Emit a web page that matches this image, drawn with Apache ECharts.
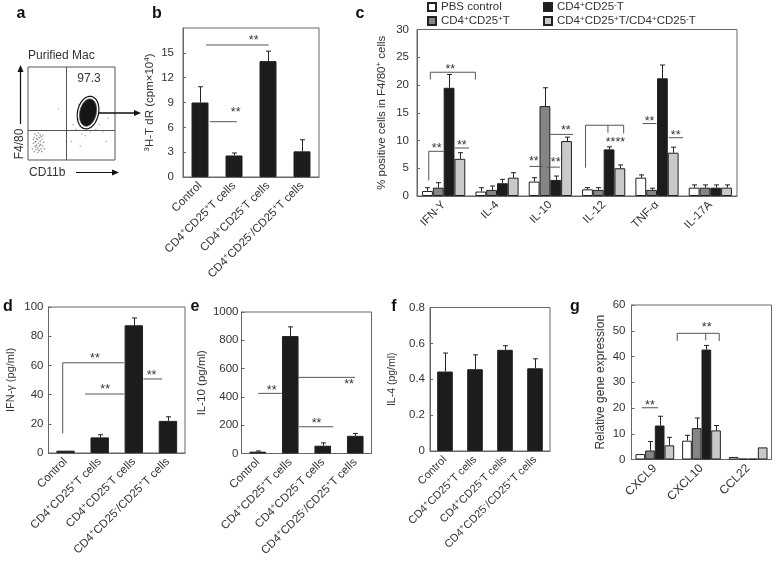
<!DOCTYPE html>
<html><head><meta charset="utf-8">
<script src="https://cdn.jsdelivr.net/npm/echarts@6.0.0/dist/echarts.min.js"></script>
<style>html,body{margin:0;padding:0;background:#fff}#chart{width:776px;height:571px}</style>
</head><body><div id="chart"></div>
<script>
// ================= DATA =================
const treatCats = ['Control','CD4^+CD25^+T cells','CD4^+CD25^-T cells','CD4^+CD25^-/CD25^+T cells'];
// panel b: 3H-TdR proliferation
const bValues = [9.0, 2.6, 14.0, 3.1];
const bErrTop = [10.9, 2.9, 15.2, 4.5];
// panel c: % positive cells
const cCats = ['IFN-Y','IL-4','IL-10','IL-12','TNF-α','IL-17A'];
const cPBS    = [0.9, 0.8, 2.6, 1.2, 3.3, 1.5];
const cPBSErr = [1.5, 1.5, 3.3, 1.5, 3.8, 2.0];
const cTreg    = [1.5, 1.1, 16.2, 1.1, 1.1, 1.5];
const cTregErr = [2.4, 1.8, 19.5, 1.5, 1.4, 2.0];
const cTeff    = [19.5, 2.3, 2.9, 8.4, 21.2, 1.5];
const cTeffErr = [21.9, 3.0, 3.6, 8.85, 23.6, 2.0];
const cMix    = [6.7, 3.3, 9.9, 5.0, 7.8, 1.5];
const cMixErr = [7.8, 4.2, 10.6, 5.6, 8.8, 2.0];
// panel d: IFN-gamma
const dValues = [1.6, 10.7, 87.5, 22.0];
const dErrTop = [1.6, 12.5, 92.5, 24.8];
// panel e: IL-10
const eValues = [13, 830, 55, 125];
const eErrTop = [18, 895, 75, 142];
// panel f: IL-4
const fValues = [0.443, 0.456, 0.564, 0.461];
const fErrTop = [0.546, 0.536, 0.587, 0.514];
// panel g: relative gene expression
const gCats = ['CXCL9','CXCL10','CCL22'];
const gPBS    = [2.1, 7.3, 1.0];
const gPBSErr = [2.1, 9.4, 1.0];
const gTreg    = [3.5, 12.2, 0.3];
const gTregErr = [7.0, 16.1, 0.3];
const gTeff    = [13.2, 42.7, 0.3];
const gTeffErr = [16.8, 44.3, 0.3];
const gMix    = [5.5, 11.3, 4.7];
const gMixErr = [8.6, 13.2, 4.7];
// panel a: flow cytometry (CD11b x, F4/80 y, 0-100 scale)
const macGate = [69, 51];
const macPercent = '97.3';
const quadX = 44.5, quadY = 31.5;
const lowLeftDots = [[5,12],[6,18],[7,9],[7,24],[8,15],[8,28],[9,11],[9,20],[10,16],[10,26],[11,8],[11,13],[11,22],[12,18],[12,29],[13,10],[13,15],[13,24],[14,20],[14,27],[15,12],[15,17],[16,22],[16,9],[17,15],[17,26],[18,19],[19,12],[6,22],[9,14],[12,11],[14,16],[10,23],[15,25],[8,19]];
const gateDots = [[52,38],[55,33],[58,44],[60,36],[62,28],[57,52],[64,40],[78,33],[82,38],[86,30],[80,62],[76,45],[58,60],[66,26],[72,30],[92,45],[50,20],[60,15],[35,55],[90,20]];

const seriesNames = ['PBS control','CD4+CD25+T','CD4+CD25-T','CD4+CD25+T/CD4+CD25-T'];
const legendLabels = {'PBS control':'PBS control','CD4+CD25+T':'CD4^+CD25^+T','CD4+CD25-T':'CD4^+CD25^-T','CD4+CD25+T/CD4+CD25-T':'CD4^+CD25^+T/CD4^+CD25^-T'};

// ================= ANNOTATIONS (category offset, value) =================
const annB = [
  {pts:[[0.18,15.95],[2.02,15.95]], star:[1.58,16.9]},
  {pts:[[0.29,6.68],[1.08,6.68]], star:[1.05,8.1]}
];
const annC = [
  {pts:[[-0.25,21.0],[-0.25,22.3],[0.595,22.3],[0.595,21.0]], star:[0.125,23.3]},
  {pts:[[-0.28,2.8],[-0.28,8.05],[0.0,8.05]], star:[-0.13,9.1]},
  {pts:[[0.207,8.65],[0.475,8.65]], star:[0.34,9.55]},
  {pts:[[1.61,5.33],[1.857,5.33]], star:[1.69,6.7]},
  {pts:[[1.93,5.2],[2.18,5.2]], star:[2.1,6.55]},
  {pts:[[2.0,11.1],[2.425,11.1]], star:[2.29,12.3]},
  {pts:[[2.66,5.1],[2.66,12.75],[3.375,12.75],[3.375,11.25]], extra:[[3.08,12.75],[3.08,11.4]], star:[3.22,10.2], text:'****'},
  {pts:[[3.73,13.05],[3.99,13.05]], star:[3.86,13.9]},
  {pts:[[4.22,10.5],[4.49,10.5]], star:[4.35,11.4]}
];
const annD = [
  {pts:[[-0.084,13.5],[-0.084,61.8],[1.71,61.8]], star:[0.86,67]},
  {pts:[[0.57,40.4],[1.71,40.4]], star:[1.16,45.4]},
  {pts:[[2.28,50.7],[2.83,50.7]], star:[2.52,55]}
];
const annE = [
  {pts:[[0.017,425],[0.737,425]], star:[0.43,465]},
  {pts:[[1.25,538],[2.99,538]], star:[2.81,505]},
  {pts:[[1.27,189],[2.32,189]], star:[1.81,232]}
];
const annG = [
  {pts:[[-0.28,20.1],[0.074,20.1]], star:[-0.104,22.2]},
  {pts:[[0.48,46],[0.48,49],[1.38,49],[1.38,46]], extra:[[1.09,49],[1.09,46.3]], star:[1.11,52.5]}
];

// ================= HELPERS =================
const FONT = 'Liberation Sans, Arial, Helvetica, sans-serif';
const TXT = '#333';
const AX = '#666';
const COLORS = ['#ffffff','#858585','#1c1c1c','#c9c9c9'];
const supFmt = s => String(s).replace(/\^([+\-])/g, '{s|$1}');
const supRich = {s:{fontSize:8, verticalAlign:'top', lineHeight:8, color:TXT, fontFamily:FONT}};

function xCat(gi, cats, fs, margin){
  return {type:'category', gridIndex:gi, data:cats, boundaryGap:true,
    axisLine:{show:true, lineStyle:{color:AX, width:1}}, axisTick:{show:false},
    axisLabel:{interval:0, rotate:45, fontSize:fs, color:TXT, margin:margin, fontFamily:FONT, lineHeight:14,
      formatter:supFmt, rich:supRich},
    splitLine:{show:false}};
}
function yVal(gi, min, max, interval, name, nameGap, nameFs, margin, hideMax){
  return {type:'value', gridIndex:gi, min, max, interval,
    axisLine:{show:true, lineStyle:{color:AX, width:1}},
    axisTick:{show:true, inside:true, length:3, lineStyle:{color:AX}},
    axisLabel:{fontSize:11.5, color:TXT, margin:margin, fontFamily:FONT, showMaxLabel: !hideMax,
      formatter: v => String(Math.round(v*100)/100)},
    splitLine:{show:false},
    name, nameLocation:'middle', nameGap, nameRotate:90,
    nameTextStyle:{fontSize:nameFs, color:TXT, fontFamily:FONT, lineHeight:14, rich:supRich}};
}
function bar(gi, name, vals, color, width, gap){
  const s = {type:'bar', name, xAxisIndex:gi, yAxisIndex:gi, data:vals, silent:true,
    itemStyle:{color, borderColor:'#222', borderWidth:1}, z:2};
  if (width) s.barWidth = width;
  s.barGap = '0%';
  if (gap) s.barCategoryGap = gap;
  return s;
}
function errSeries(gi, vals, tops, idx, n, gapFrac){
  return {type:'custom', xAxisIndex:gi, yAxisIndex:gi, silent:true, z:4, clip:false,
    data: vals.map((v,i)=>[i, v, tops[i]]),
    renderItem:(params, api)=>{
      const i = api.value(0), v = api.value(1), t = api.value(2);
      if (!(t > v + 1e-9)) return {type:'group', children:[]};
      const band = api.size([1,0])[0];
      const bw = band*(1-gapFrac)/n;
      const base = api.coord([i, v]);
      const x = Math.round(base[0] + (idx-(n-1)/2)*bw) + 0.5;
      const yT = api.coord([i, t])[1];
      const cap = 2.5;
      const st = {stroke:'#222', lineWidth:1};
      return {type:'group', children:[
        {type:'line', shape:{x1:x, y1:base[1], x2:x, y2:yT}, style:st},
        {type:'line', shape:{x1:x-cap, y1:yT, x2:x+cap, y2:yT}, style:st}
      ]};
    }};
}
function annotSeries(gi, specs, fs){
  return {type:'custom', xAxisIndex:gi, yAxisIndex:gi, silent:true, z:5, clip:false,
    data: specs.map(()=>[0,0]),
    renderItem:(params, api)=>{
      const s = specs[params.dataIndex];
      const band = api.size([1,0])[0];
      const P = p => { const c = api.coord([0, p[1]]); return [c[0] + p[0]*band, c[1]]; };
      const st = {stroke:'#555', lineWidth:1, fill:null};
      const ch = [{type:'polyline', shape:{points:s.pts.map(P)}, style:st}];
      if (s.extra) ch.push({type:'polyline', shape:{points:s.extra.map(P)}, style:st});
      const sp = P(s.star);
      ch.push({type:'text', style:{text:s.text||'**', x:sp[0], y:sp[1]+3, textAlign:'center', textVerticalAlign:'middle',
        fontSize:fs||12.5, fontFamily:FONT, fill:TXT}});
      return {type:'group', children:ch};
    }};
}

// ================= OPTION =================
const gridBase = {show:true, borderColor:AX, borderWidth:1, backgroundColor:'transparent', containLabel:false, outerBoundsMode:'none'};
const grids = [
  Object.assign({}, gridBase, {left:28, top:67, width:87, height:93, borderColor:'#555'}),   // a
  Object.assign({}, gridBase, {left:183, top:28, width:136, height:149}),                    // b
  Object.assign({}, gridBase, {left:417, top:29.5, width:320, height:166.5}),                // c
  Object.assign({}, gridBase, {left:48.5, top:307, width:136.5, height:146}),                // d
  Object.assign({}, gridBase, {left:241.5, top:312, width:130, height:141.5}),               // e
  Object.assign({}, gridBase, {left:430, top:307.5, width:120, height:143.5}),               // f
  Object.assign({}, gridBase, {left:631.5, top:305, width:140, height:154.5})                // g
];

const xAxes = [
  {type:'value', gridIndex:0, min:0, max:100, show:false},
  xCat(1, treatCats, 11.5, 7),
  xCat(2, cCats, 11.5, 7),
  xCat(3, treatCats, 11.5, 7),
  xCat(4, treatCats, 11.5, 7),
  xCat(5, treatCats, 11, 7),
  xCat(6, gCats, 12, 7)
];
const yAxes = [
  {type:'value', gridIndex:0, min:0, max:100, show:false},
  yVal(1, 0, 18, 3, '{s|3}H-T dR (cpm×10{s|4})', 26, 11.5, 9, true),
  yVal(2, 0, 30, 5, '% positive cells in F4/80{s|+} cells', 28, 11.5, 8, false),
  yVal(3, 0, 100, 20, 'IFN-γ (pg/ml)', 31, 11, 5, false),
  yVal(4, 0, 1000, 200, 'IL-10 (pg/ml)', 33, 11.5, 3, false),
  yVal(5, 0, 0.8, 0.2, 'IL-4 (pg/ml)', 31, 10.5, 5, false),
  yVal(6, 0, 60, 10, 'Relative gene expression', 24, 12, 6, false)
];

const series = [];
// panel a
series.push({type:'scatter', xAxisIndex:0, yAxisIndex:0, data:lowLeftDots, symbolSize:1.6, silent:true,
  itemStyle:{color:'#777'},
  markLine:{silent:true, symbol:'none', label:{show:false}, lineStyle:{color:'#555', width:1, type:'solid'},
    data:[{xAxis:quadX},{yAxis:quadY}]}});
series.push({type:'scatter', xAxisIndex:0, yAxisIndex:0, data:gateDots, symbolSize:1.4, silent:true, itemStyle:{color:'#888'}});
series.push({type:'custom', xAxisIndex:0, yAxisIndex:0, silent:true, z:5, data:[macGate],
  renderItem:(params, api)=>{
    const c = api.coord([api.value(0), api.value(1)]);
    const phi = 12*Math.PI/180;
    const ell = (rx, ry) => { const pts=[]; for (let k=0;k<60;k++){ const t=2*Math.PI*k/60; const x=rx*Math.cos(t), y=ry*Math.sin(t);
      pts.push([c[0]+x*Math.cos(phi)-y*Math.sin(phi), c[1]+x*Math.sin(phi)+y*Math.cos(phi)]);} return pts; };
    return {type:'group', children:[
      {type:'polygon', shape:{points:ell(10.5,16.5)}, style:{fill:null, stroke:'#111', lineWidth:1.2}},
      {type:'polygon', shape:{points:ell(8.2,13.8)}, style:{fill:'#161616', stroke:'#444', lineWidth:0.8}}
    ]};
  }});
// panel b
series.push(bar(1, 'b', bValues, COLORS[2], '50%'));
series.push(errSeries(1, bValues, bErrTop, 0, 1, 0));
series.push(annotSeries(1, annB));
// panel c
const cVals = [cPBS, cTreg, cTeff, cMix], cErrs = [cPBSErr, cTregErr, cTeffErr, cMixErr];
cVals.forEach((v,k)=>series.push(bar(2, seriesNames[k], v, COLORS[k], null, '19%')));
cVals.forEach((v,k)=>series.push(errSeries(2, v, cErrs[k], k, 4, 0.19)));
series.push(annotSeries(2, annC));
// panel d
series.push(bar(3, 'd', dValues, COLORS[2], '54%'));
series.push(errSeries(3, dValues, dErrTop, 0, 1, 0));
series.push(annotSeries(3, annD));
// panel e
series.push(bar(4, 'e', eValues, COLORS[2], '51%'));
series.push(errSeries(4, eValues, eErrTop, 0, 1, 0));
series.push(annotSeries(4, annE));
// panel f
series.push(bar(5, 'f', fValues, COLORS[2], '52%'));
series.push(errSeries(5, fValues, fErrTop, 0, 1, 0));
// panel g
const gVals = [gPBS, gTreg, gTeff, gMix], gErrs = [gPBSErr, gTregErr, gTeffErr, gMixErr];
gVals.forEach((v,k)=>series.push(bar(6, seriesNames[k], v, COLORS[k], null, '17%')));
gVals.forEach((v,k)=>series.push(errSeries(6, v, gErrs[k], k, 4, 0.17)));
series.push(annotSeries(6, annG));

const legendCommon = {orient:'vertical', itemGap:1, itemWidth:8, itemHeight:8, icon:'rect', selectedMode:false, padding:0,
  textStyle:{fontSize:11.5, color:TXT, fontFamily:FONT, lineHeight:13, rich:supRich},
  formatter: n => supFmt(legendLabels[n] || n)};

const letter = (t, x, y) => ({type:'text', x, y, style:{text:t, font:'bold 16px '+FONT, fill:'#111', textAlign:'center', textVerticalAlign:'middle'}});
const graphic = [
  letter('a', 21, 14), letter('b', 157, 14), letter('c', 360, 14),
  letter('d', 8, 307), letter('e', 195, 307), letter('f', 394, 307), letter('g', 575, 307),
  {type:'text', x:28, y:56, style:{text:'Purified Mac', font:'12px '+FONT, fill:TXT, textAlign:'left', textVerticalAlign:'middle'}},
  {type:'text', x:89, y:79, style:{text:macPercent, font:'12px '+FONT, fill:TXT, textAlign:'center', textVerticalAlign:'middle'}},
  {type:'text', x:20, y:144, rotation:Math.PI/2, style:{text:'F4/80', x:0, y:0, font:'12px '+FONT, fill:TXT, textAlign:'center', textVerticalAlign:'middle'}},
  {type:'line', shape:{x1:20.5, y1:124, x2:20.5, y2:71}, style:{stroke:'#111', lineWidth:1.2}},
  {type:'polygon', shape:{points:[[20.5,65],[17.5,72],[23.5,72]]}, style:{fill:'#111'}},
  {type:'text', x:29, y:172.5, style:{text:'CD11b', font:'12px '+FONT, fill:TXT, textAlign:'left', textVerticalAlign:'middle'}},
  {type:'line', shape:{x1:76, y1:172.5, x2:113, y2:172.5}, style:{stroke:'#111', lineWidth:1.2}},
  {type:'polygon', shape:{points:[[119,172.5],[112,169.5],[112,175.5]]}, style:{fill:'#111'}},
  {type:'line', shape:{x1:99, y1:113, x2:135, y2:113}, style:{stroke:'#111', lineWidth:1.3}},
  {type:'polygon', shape:{points:[[141,113],[134,110],[134,116]]}, style:{fill:'#111'}}
];

const option = {
  animation:false,
  backgroundColor:'#ffffff',
  textStyle:{fontFamily:FONT},
  grid:grids, xAxis:xAxes, yAxis:yAxes, series,
  legend:[
    Object.assign({}, legendCommon, {left:427, top:0.5, data:['PBS control','CD4+CD25+T']}),
    Object.assign({}, legendCommon, {left:543, top:0.5, data:['CD4+CD25-T','CD4+CD25+T/CD4+CD25-T']})
  ],
  graphic
};
const chart = echarts.init(document.getElementById('chart'), null, {renderer:'canvas'});
chart.setOption(option);
</script></body></html>
